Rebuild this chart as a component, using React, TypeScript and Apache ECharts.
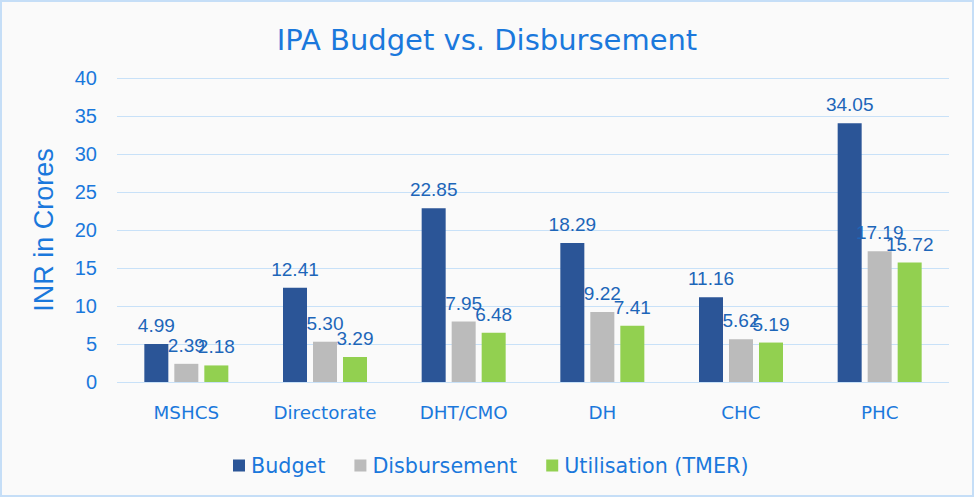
import React, { useEffect, useRef } from "react";
import * as echarts from "echarts";

const categories = ["MSHCS", "Directorate", "DHT/CMO", "DH", "CHC", "PHC"];
const budget = [4.99, 12.41, 22.85, 18.29, 11.16, 34.05];
const disbursement = [2.39, 5.3, 7.95, 9.22, 5.62, 17.19];
const utilisation = [2.18, 3.29, 6.48, 7.41, 5.19, 15.72];
const seriesNames = ["Budget", "Disbursement", "Utilisation (TMER)"];
const seriesColors = ["#2b5597", "#bbbbbb", "#92d050"];

export default function App() {
  const ref = useRef<HTMLDivElement>(null);
  useEffect(() => {
    if (!ref.current) return;
    const chart = echarts.init(ref.current, undefined, { renderer: "svg" });
    const textBlue = "#1a78dc";
    const labelBlue = "#1d66b9";
    const mk = (name: string, data: number[], color: string) => ({
      name,
      type: "bar",
      data,
      barWidth: 24,
      barGap: "25%",
      itemStyle: { color },
      label: {
        show: true,
        position: "top",
        distance: 9,
        color: labelBlue,
        fontFamily: "Liberation Sans",
        fontSize: 19,
        formatter: (p: any) => p.value.toFixed(2),
      },
    });
    chart.setOption({
      animation: false,
      backgroundColor: "#fafafa",
      title: {
        text: "IPA Budget vs. Disbursement",
        left: "center",
        top: 18,
        textStyle: {
          color: textBlue,
          fontFamily: "DejaVu Sans",
          fontWeight: "normal",
          fontSize: 29,
        },
      },
      legend: {
        top: 448,
        left: 226,
        itemWidth: 12,
        itemHeight: 12,
        itemGap: 29,
        icon: "rect",
        data: seriesNames,
        textStyle: { color: textBlue, fontFamily: "DejaVu Sans", fontSize: 20.7, padding: [0, 0, 0, 1] },
      },
      grid: { left: 115, right: 23, top: 76, bottom: 113, containLabel: false },
      xAxis: {
        type: "category",
        data: categories,
        axisLine: { show: false },
        axisTick: { show: false },
        axisLabel: { color: textBlue, fontFamily: "DejaVu Sans", fontSize: 18.3, margin: 21 },
      },
      yAxis: {
        type: "value",
        min: 0,
        max: 40,
        interval: 5,
        name: "INR in Crores",
        nameLocation: "middle",
        nameGap: 60,
        nameTextStyle: { color: textBlue, fontFamily: "Liberation Sans", fontSize: 27 },
        axisLabel: { color: textBlue, fontFamily: "Liberation Sans", fontSize: 20, margin: 20 },
        splitLine: { lineStyle: { color: "#c8e1f8", width: 1 } },
      },
      series: [
        mk(seriesNames[0], budget, seriesColors[0]),
        mk(seriesNames[1], disbursement, seriesColors[1]),
        mk(seriesNames[2], utilisation, seriesColors[2]),
      ],
    });
    return () => chart.dispose();
  }, []);
  return (
    <div
      style={{
        position: "fixed",
        left: 0,
        top: 0,
        width: 974,
        height: 497,
        boxSizing: "border-box",
        border: "2px solid #c5def7",
        background: "#fafafa",
      }}
    >
      <div ref={ref} style={{ width: 970, height: 493 }} />
    </div>
  );
}
